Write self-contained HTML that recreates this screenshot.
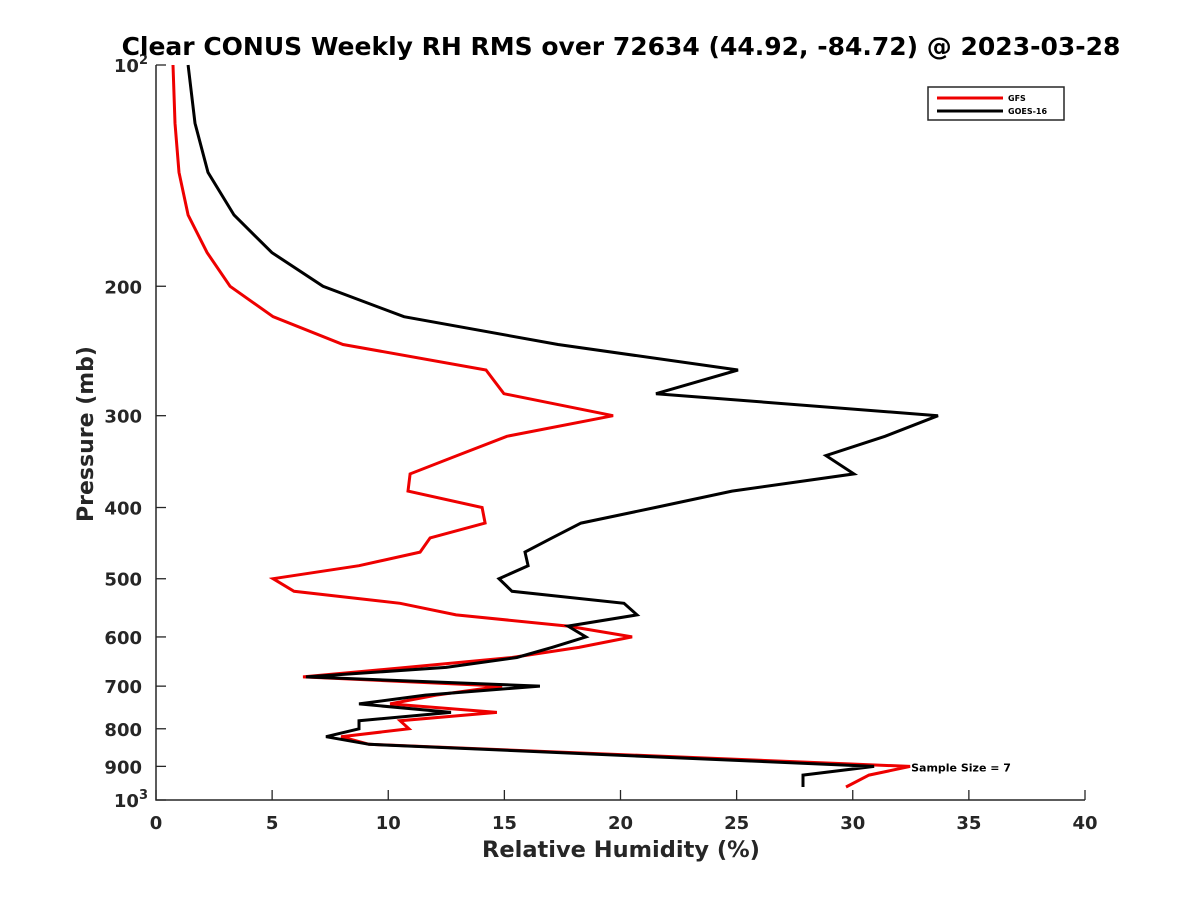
<!DOCTYPE html>
<html><head><meta charset="utf-8"><style>
html,body{margin:0;padding:0;background:#fff;}
svg{display:block;font-family:"DejaVu Sans","Liberation Sans",sans-serif;}
</style></head><body>
<svg id="chart" width="1200" height="900" viewBox="0 0 1200 900"></svg>
<script>
const pressures = [100,120,140,160,180,200,220,240,260,280,300,320,340,360,380,400,420,440,460,480,500,520,540,560,580,600,620,640,660,680,700,720,740,760,780,800,820,840,900,925,960];
const gfsValues = [0.73,0.82,0.99,1.38,2.20,3.19,5.04,8.05,14.21,14.98,19.68,15.11,12.96,10.94,10.85,14.04,14.17,11.80,11.37,8.74,5.04,5.94,10.51,12.92,17.74,20.50,18.21,15.33,10.8,6.33,14.90,12.06,10.08,14.68,10.51,10.89,7.97,9.17,32.47,30.7,29.71];
const goesValues = [1.38,1.68,2.24,3.36,4.99,7.19,10.68,17.31,25.06,21.53,33.67,31.39,28.85,30.05,24.80,21.5,18.30,17.05,15.89,16.02,14.77,15.33,20.15,20.71,17.74,18.51,17.05,15.54,12.49,6.46,16.53,11.6,8.74,12.70,8.74,8.74,7.32,9.17,30.92,27.86,27.86];
const xTicks = [0,5,10,15,20,25,30,35,40];
const yTicks = [200,300,400,500,600,700,800,900];

const NS='http://www.w3.org/2000/svg';
const svg=document.getElementById('chart');
const L=156,R=1085,T=65,B=800;
const xs=v=>L+(v-0)/(40-0)*(R-L);
const ys=p=>T+(Math.log10(p)-2)*(B-T);
function mk(tag,attrs,parent){const e=document.createElementNS(NS,tag);for(const k in attrs)e.setAttribute(k,attrs[k]);(parent||svg).appendChild(e);return e;}

const ax=mk('path',{d:`M${L},${T} L${L},${B} L${R},${B}`,fill:'none',stroke:'#262626','stroke-width':1.5});



xTicks.forEach(t=>{
  const x=xs(t);
  const tk=mk('line',{x1:x,y1:B,x2:x,y2:B-10,stroke:'#262626','stroke-width':1.3});
  
  
  const lb=mk('text',{x:x,y:B+29,'text-anchor':'middle','font-size':18,'font-weight':'bold',fill:'#262626'});
  lb.textContent=t;
  
  
});
yTicks.forEach(t=>{
  const y=ys(t);
  const tk=mk('line',{x1:L,y1:y,x2:L+10,y2:y,stroke:'#262626','stroke-width':1.3});
  
  
  const lb=mk('text',{x:L-14,y:y+7,'text-anchor':'end','font-size':18,'font-weight':'bold',fill:'#262626'});
  lb.textContent=t;
  
  
});
[[100,'2'],[1000,'3']].forEach(([p,e])=>{
  const y=ys(p);
  const tk=mk('line',{x1:L,y1:y,x2:L+10,y2:y,stroke:'#262626','stroke-width':1.3});
  
  
  const lb=mk('text',{x:L-8,y:y+7,'text-anchor':'end','font-size':18,'font-weight':'bold',fill:'#262626'});
  
  
  const a=mk('tspan',{},lb);a.textContent='10';
  const b=mk('tspan',{dy:-8,'font-size':13},lb);b.textContent=e;
});

function series(vals,color,name){
  const d=vals.map((v,i)=>(i?'L':'M')+xs(v).toFixed(1)+','+ys(pressures[i]).toFixed(1)).join(' ');
  const p=mk('path',{d:d,fill:'none',stroke:color,'stroke-width':3,'stroke-linejoin':'miter'});
  
  
}
series(gfsValues,'#ee0000','gfs-line');
series(goesValues,'#000000','goes16-line');

const ss=mk('text',{x:xs(gfsValues[38])+1,y:ys(900)+5,'font-size':11,'font-weight':'bold',fill:'#000'});
ss.textContent='Sample Size = 7';



const ti=mk('text',{x:621,y:55,'text-anchor':'middle','font-size':25,'font-weight':'bold',fill:'#000'});
ti.textContent='Clear CONUS Weekly RH RMS over 72634 (44.92, -84.72) @ 2023-03-28';



const xt=mk('text',{x:621,y:857,'text-anchor':'middle','font-size':22.5,'font-weight':'bold',fill:'#262626'});
xt.textContent='Relative Humidity (%)';



const yt=mk('text',{x:0,y:0,'text-anchor':'middle','font-size':22,'font-weight':'bold',fill:'#262626',transform:'translate(93,434) rotate(-90)'});
yt.textContent='Pressure (mb)';



const lg=mk('g',{});


mk('rect',{x:928,y:87,width:136,height:33,fill:'#fff',stroke:'#262626','stroke-width':1.5},lg);
[['GFS','#ee0000',98],['GOES-16','#000',111]].forEach(([n,c,y])=>{
  const g=mk('g',{},lg);
  
  
  mk('line',{x1:937,y1:y,x2:1003,y2:y,stroke:c,'stroke-width':3},g);
  const t=mk('text',{x:1008,y:y+3,'font-size':8,'font-weight':'bold',fill:'#000'},g);
  t.textContent=n;
});
</script>
</body></html>
